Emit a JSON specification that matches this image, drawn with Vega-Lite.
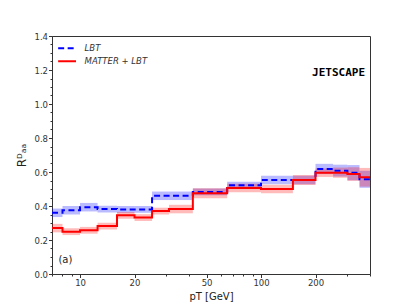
{
  "$schema": "https://vega.github.io/schema/vega-lite/v6.json",
  "width": 318,
  "height": 238,
  "autosize": {"type": "none"},
  "padding": {"left": 52, "top": 36, "right": 41, "bottom": 34},
  "background": "white",
  "config": {
    "font": "DejaVu Sans",
    "view": {"stroke": "#333", "strokeWidth": 1},
    "axis": {"labelFont": "DejaVu Sans", "labelFontSize": 8.5, "labelColor": "#333", "tickColor": "#333", "domainColor": "#333", "grid": false, "titleFont": "DejaVu Sans", "titleFontWeight": "normal", "titleColor": "#222"}
  },
  "datasets": {
    "bins": [
      {"series": "LBT", "x0": 7, "x1": 8, "v": 0.36, "lo": 0.335, "hi": 0.385},
      {"series": "LBT", "x0": 8, "x1": 10, "v": 0.375, "lo": 0.35, "hi": 0.4},
      {"series": "LBT", "x0": 10, "x1": 12.5, "v": 0.393, "lo": 0.368, "hi": 0.418},
      {"series": "LBT", "x0": 12.5, "x1": 16, "v": 0.382, "lo": 0.362, "hi": 0.402},
      {"series": "LBT", "x0": 16, "x1": 20, "v": 0.38, "lo": 0.36, "hi": 0.4},
      {"series": "LBT", "x0": 20, "x1": 25, "v": 0.38, "lo": 0.36, "hi": 0.4},
      {"series": "LBT", "x0": 25, "x1": 31, "v": 0.46, "lo": 0.435, "hi": 0.485},
      {"series": "LBT", "x0": 31, "x1": 42, "v": 0.46, "lo": 0.435, "hi": 0.485},
      {"series": "LBT", "x0": 42, "x1": 65, "v": 0.483, "lo": 0.463, "hi": 0.503},
      {"series": "LBT", "x0": 65, "x1": 100, "v": 0.522, "lo": 0.502, "hi": 0.542},
      {"series": "LBT", "x0": 100, "x1": 150, "v": 0.553, "lo": 0.528, "hi": 0.578},
      {"series": "LBT", "x0": 150, "x1": 200, "v": 0.553, "lo": 0.528, "hi": 0.578},
      {"series": "LBT", "x0": 200, "x1": 250, "v": 0.618, "lo": 0.588, "hi": 0.648},
      {"series": "LBT", "x0": 250, "x1": 300, "v": 0.608, "lo": 0.573, "hi": 0.643},
      {"series": "LBT", "x0": 300, "x1": 350, "v": 0.596, "lo": 0.551, "hi": 0.641},
      {"series": "LBT", "x0": 350, "x1": 400, "v": 0.557, "lo": 0.507, "hi": 0.607},
      {"series": "MATTER + LBT", "x0": 7, "x1": 8, "v": 0.27, "lo": 0.245, "hi": 0.295},
      {"series": "MATTER + LBT", "x0": 8, "x1": 10, "v": 0.249, "lo": 0.229, "hi": 0.269},
      {"series": "MATTER + LBT", "x0": 10, "x1": 12.5, "v": 0.257, "lo": 0.237, "hi": 0.277},
      {"series": "MATTER + LBT", "x0": 12.5, "x1": 16, "v": 0.282, "lo": 0.262, "hi": 0.302},
      {"series": "MATTER + LBT", "x0": 16, "x1": 20, "v": 0.345, "lo": 0.325, "hi": 0.365},
      {"series": "MATTER + LBT", "x0": 20, "x1": 25, "v": 0.332, "lo": 0.312, "hi": 0.352},
      {"series": "MATTER + LBT", "x0": 25, "x1": 31, "v": 0.37, "lo": 0.35, "hi": 0.39},
      {"series": "MATTER + LBT", "x0": 31, "x1": 42, "v": 0.382, "lo": 0.357, "hi": 0.407},
      {"series": "MATTER + LBT", "x0": 42, "x1": 65, "v": 0.475, "lo": 0.445, "hi": 0.505},
      {"series": "MATTER + LBT", "x0": 65, "x1": 100, "v": 0.506, "lo": 0.481, "hi": 0.531},
      {"series": "MATTER + LBT", "x0": 100, "x1": 150, "v": 0.5, "lo": 0.475, "hi": 0.525},
      {"series": "MATTER + LBT", "x0": 150, "x1": 200, "v": 0.553, "lo": 0.523, "hi": 0.583},
      {"series": "MATTER + LBT", "x0": 200, "x1": 250, "v": 0.596, "lo": 0.571, "hi": 0.621},
      {"series": "MATTER + LBT", "x0": 250, "x1": 300, "v": 0.596, "lo": 0.566, "hi": 0.626},
      {"series": "MATTER + LBT", "x0": 300, "x1": 350, "v": 0.588, "lo": 0.548, "hi": 0.628},
      {"series": "MATTER + LBT", "x0": 350, "x1": 400, "v": 0.569, "lo": 0.514, "hi": 0.624}
    ],
    "legend": [
      {"series": "LBT", "a": 7.57, "b": 9.5, "t": 10.6, "y": 1.328},
      {"series": "MATTER + LBT", "a": 7.57, "b": 9.5, "t": 10.6, "y": 1.251}
    ],
    "labels": [
      {"x": 7.6, "y": 0.08, "t": "(a)", "kind": "panel"},
      {"x": 268, "y": 1.185, "t": "JETSCAPE", "kind": "logo"}
    ]
  },
  "layer": [
    {
      "data": {"name": "bins"},
      "mark": {"type": "rect", "opacity": 0.27},
      "encoding": {
        "x": {"field": "x0", "type": "quantitative", "scale": {"type": "log", "domain": [7, 400], "nice": false},
              "axis": {"orient": "bottom", "values": [7, 8, 9, 30, 40, 60, 70, 80, 90, 300, 400], "labels": false, "ticks": true, "tickSize": 2, "domain": false, "title": null}},
        "x2": {"field": "x1"},
        "y": {"field": "lo", "type": "quantitative", "scale": {"domain": [0, 1.4], "nice": false},
              "axis": {"orient": "left", "values": [0.05, 0.1, 0.15, 0.25, 0.3, 0.35, 0.45, 0.5, 0.55, 0.65, 0.7, 0.75, 0.85, 0.9, 0.95, 1.05, 1.1, 1.15, 1.25, 1.3, 1.35], "labels": false, "ticks": true, "tickSize": 2, "domain": false, "title": null}},
        "y2": {"field": "hi"},
        "fill": {"field": "series", "type": "nominal", "scale": {"domain": ["LBT", "MATTER + LBT"], "range": ["#0000ff", "#ff0000"]}, "legend": null}
      }
    },
    {
      "data": {"name": "bins"},
      "transform": [{"fold": ["x0", "x1"], "as": ["edge", "px"]}],
      "mark": {"type": "line", "strokeWidth": 2, "clip": true},
      "encoding": {
        "x": {"field": "px", "type": "quantitative", "scale": {"type": "log", "domain": [7, 400], "nice": false},
              "axis": {"orient": "bottom", "values": [10, 20, 50, 100, 200], "format": "d", "tickSize": 3.5, "labelPadding": 1, "title": "pT [GeV]", "titleFontSize": 10, "titlePadding": 4}},
        "y": {"field": "v", "type": "quantitative", "scale": {"domain": [0, 1.4], "nice": false},
              "axis": {"orient": "left", "values": [0, 0.2, 0.4, 0.6, 0.8, 1.0, 1.2, 1.4], "format": ".1f", "tickSize": 3.5, "labelPadding": 1, "title": "Rᴰₐₐ", "titleFontSize": 12, "titlePadding": 5}},
        "order": [{"field": "px", "type": "quantitative"}, {"field": "edge", "type": "nominal", "sort": "descending"}],
        "stroke": {"field": "series", "type": "nominal", "scale": {"domain": ["LBT", "MATTER + LBT"], "range": ["#0000ff", "#ff0000"]}, "legend": null},
        "strokeDash": {"field": "series", "type": "nominal", "scale": {"domain": ["LBT", "MATTER + LBT"], "range": [[6, 3.5], [1, 0]]}, "legend": null}
      }
    },
    {
      "data": {"name": "legend"},
      "mark": {"type": "rule", "strokeWidth": 2},
      "encoding": {
        "x": {"field": "a", "type": "quantitative", "axis": null},
        "x2": {"field": "b"},
        "y": {"field": "y", "type": "quantitative", "axis": null},
        "stroke": {"field": "series", "type": "nominal", "legend": null},
        "strokeDash": {"field": "series", "type": "nominal", "legend": null}
      }
    },
    {
      "data": {"name": "legend"},
      "mark": {"type": "text", "align": "left", "baseline": "middle", "fontSize": 8.5, "fontStyle": "italic", "color": "#333"},
      "encoding": {
        "x": {"field": "t", "type": "quantitative", "axis": null},
        "y": {"field": "y", "type": "quantitative", "axis": null},
        "text": {"field": "series"}
      }
    },
    {
      "data": {"name": "labels"},
      "transform": [{"filter": "datum.kind == 'panel'"}],
      "mark": {"type": "text", "align": "left", "baseline": "middle", "fontSize": 10, "color": "#222"},
      "encoding": {
        "x": {"field": "x", "type": "quantitative", "axis": null},
        "y": {"field": "y", "type": "quantitative", "axis": null},
        "text": {"field": "t"}
      }
    },
    {
      "data": {"name": "labels"},
      "transform": [{"filter": "datum.kind == 'logo'"}],
      "mark": {"type": "text", "align": "center", "baseline": "middle", "fontSize": 11, "font": "DejaVu Sans Mono", "fontWeight": "bold", "color": "#000"},
      "encoding": {
        "x": {"field": "x", "type": "quantitative", "axis": null},
        "y": {"field": "y", "type": "quantitative", "axis": null},
        "text": {"field": "t"}
      }
    }
  ],
  "resolve": {"axis": {"x": "independent", "y": "independent"}}
}
